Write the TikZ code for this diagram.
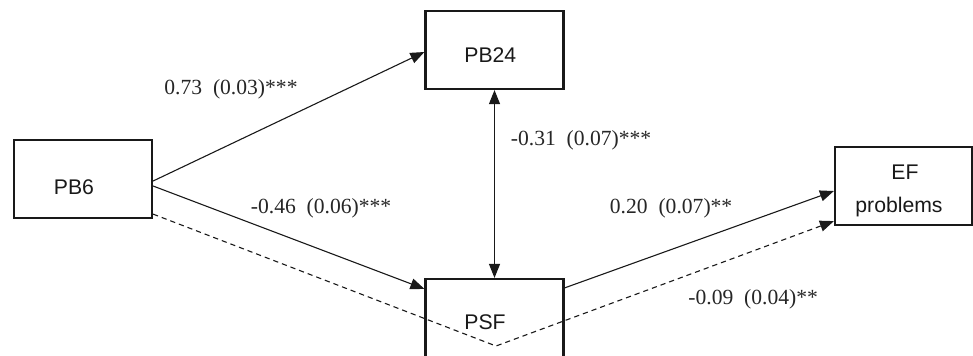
\documentclass[tikz,border=0pt]{standalone}
\usepackage{fontspec}
\setmainfont{Liberation Serif}
\newfontfamily\boxfont{Liberation Sans}
\usetikzlibrary{arrows.meta,calc}
\begin{document}
\begin{tikzpicture}[x=0.5pt,y=-0.5pt,
  box/.style={draw=black!90,line width=1.1pt,minimum width=69pt,minimum height=39pt,inner sep=0pt,fill=none},
  boxtext/.style={anchor=base west,inner sep=0pt,font=\boxfont\fontsize{10.6pt}{12pt}\selectfont,text=black!90},
  coef/.style={anchor=base west,inner sep=0pt,font=\fontsize{10.8pt}{12pt}\selectfont,text=black!85},
  path1/.style={line width=0.55pt,draw=black!90,-{Triangle[length=7pt,width=5.5pt]}},
  dpath/.style={path1,dash pattern=on 2.6pt off 2pt}]
\useasboundingbox (0,0) rectangle (973,355);
\clip (0,0) rectangle (973,355);
% boxes
\node[box] (pb6) at (83,179) {};
\node[box] (pb24) at (494.5,50) {};
\node[box] (psf) at (494.5,318) {};
\node[box,minimum width=68.5pt] (ef) at (903.5,186) {};
% box texts
\node[boxtext] (pb6t) at (53.5,194) {PB6};
\node[boxtext] (pb24t) at (464,62) {PB24};
\node[boxtext] (psft) at (464,329) {PSF};
\node[boxtext] (eft) at (891,179) {EF};
\node[boxtext] (efp) at (855,212) {problems};
% connectors
\draw[path1] ($(pb6.east)+(0,2)$) -- ($(pb24.west)+(0,2)$);
\draw[path1] ($(pb6.east)+(0,7)$) -- ($(psf.north west)+(0,11)$);
\draw[line width=0.55pt,draw=black!90,{Triangle[length=7pt,width=5.5pt]}-{Triangle[length=7pt,width=5.5pt]}] (pb24.south) -- (psf.north);
\draw[path1] ($(psf.north east)+(0,10)$) -- ($(ef.west)+(0,5)$);
\coordinate (dv) at (496,346);
\draw[dpath] ($(pb6.south east)+(0,-5)$) -- (dv) -- ($(ef.south west)+(0,-5)$);
% coefficients
\node[coef] (c1) at (164,94) {0.73\ \ (0.03)***};
\node[coef] (c2) at (250.5,213) {-0.46\ \ (0.06)***};
\node[coef] (c3) at (510.5,145) {-0.31\ \ (0.07)***};
\node[coef] (c4) at (609.5,213) {0.20\ \ (0.07)**};
\node[coef] (c5) at (688,304) {-0.09\ \ (0.04)**};
\end{tikzpicture}
\end{document}
